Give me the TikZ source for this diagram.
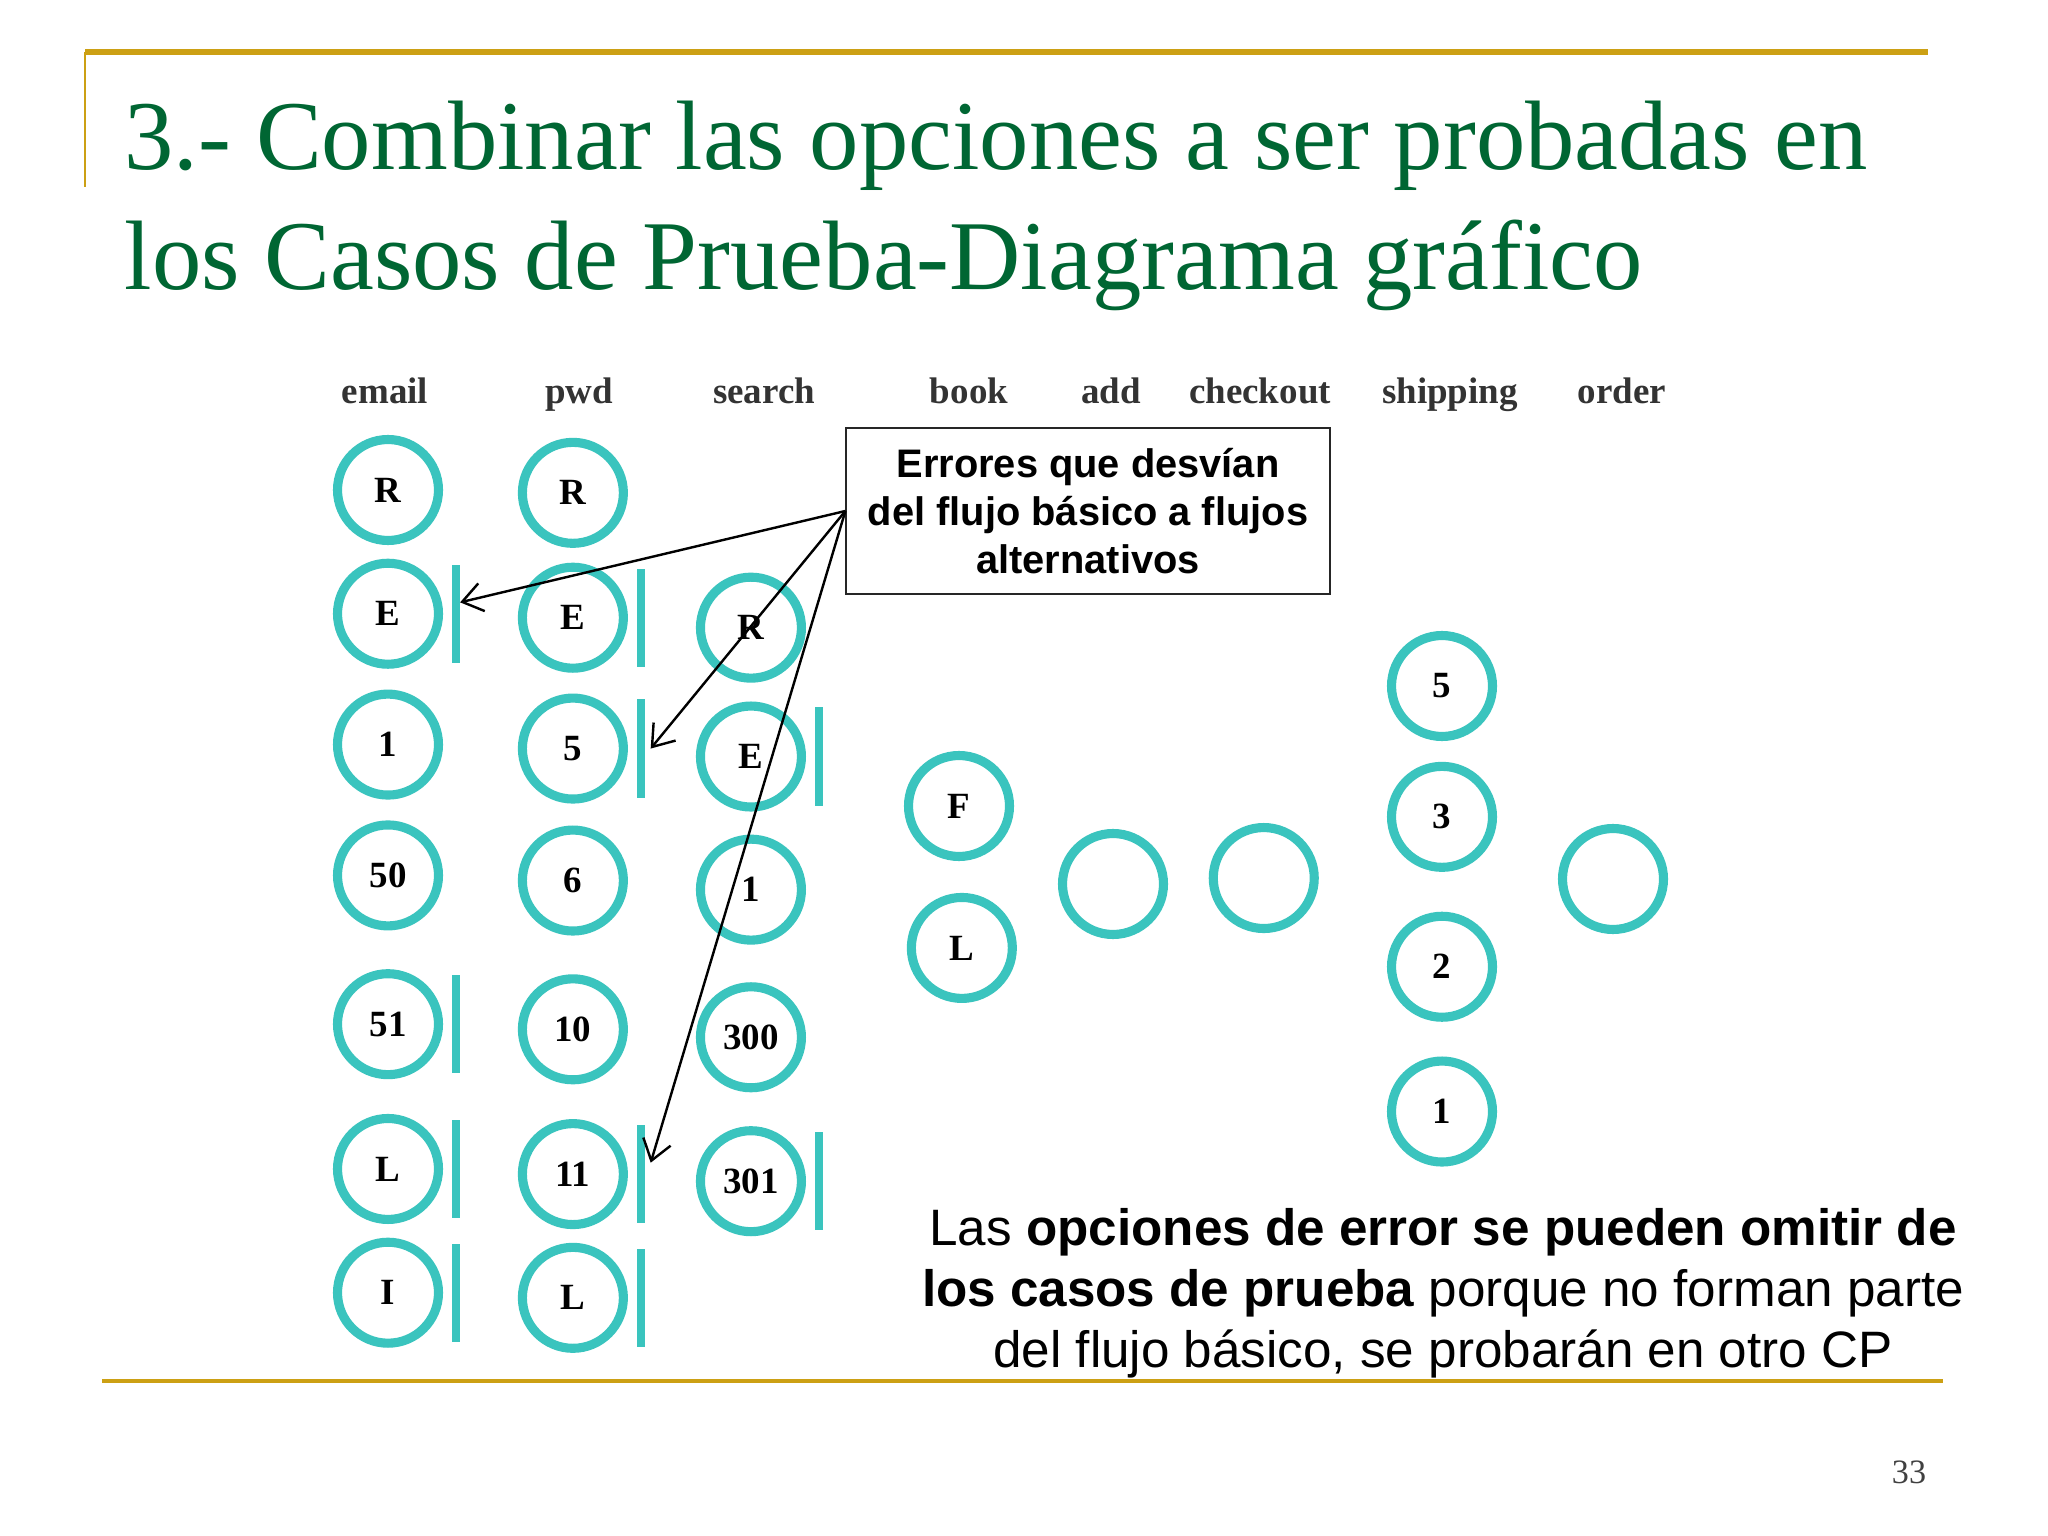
\documentclass[tikz,border=0pt]{standalone}
\usepackage{fontspec}
\setmainfont{Liberation Serif}
\setsansfont{Liberation Sans}
\usepackage{tikz}
\usetikzlibrary{positioning,arrows.meta}
\definecolor{slidegreen}{RGB}{0,102,51}
\definecolor{slidegold}{RGB}{204,160,20}
\definecolor{ringteal}{RGB}{58,196,190}

\begin{document}
\begin{tikzpicture}[
    x=0.35156pt, y=-0.35156pt,
    node distance=46pt,
    ring/.style={draw=ringteal,line width=3.2pt,circle,minimum size=35.5pt,inner sep=0pt,font=\fontsize{13}{15}\selectfont\bfseries},
    bar/.style={fill=ringteal,minimum width=2.8pt,minimum height=34.5pt,inner sep=0pt,outer sep=0pt},
    colhead/.style={anchor=base,font=\fontsize{13}{15}\selectfont\bfseries,text=black!80},
    titleline/.style={anchor=base west,inner sep=0pt,text=slidegreen,font=\fontsize{34.7}{42}\selectfont},
    note/.style={draw=black!85,line width=0.6pt,font=\sffamily\bfseries\fontsize{14}{16.8}\selectfont,align=center,minimum width=170pt,minimum height=58.4pt,inner sep=0pt},
    errarrow/.style={-{Straight Barb[length=7pt,width=10pt]},line width=0.85pt},
]
    \fill[white] (0,0) rectangle (2048,1536);
    \useasboundingbox (0,0) rectangle (2048,1536);

    %frame
    \draw[slidegold,line width=1.8pt] (85,52) -- (1928,52);
    \draw[slidegold,line width=1pt] (85,52) -- (85,187);
    \draw[slidegold,line width=1.3pt] (102,1381) -- (1943,1381);

    %title
    \node[titleline] (title1) at (124,170) {3.- Combinar las opciones a ser probadas en};
    \node[titleline] (title2) at (124,290) {los Casos de Prueba-Diagrama gráfico};

    %headers
    \node[colhead] (hemail) at (385,404) {email};
    \node[colhead] (hpwd) at (579,404) {pwd};
    \node[colhead] (hsearch) at (764,404) {search};
    \node[colhead] (hbook) at (969,404) {book};
    \node[colhead] (hadd) at (1111,404) {add};
    \node[colhead] (hcheckout) at (1260,404) {checkout};
    \node[colhead] (hshipping) at (1450,404) {shipping};
    \node[colhead] (horder) at (1622,404) {order};

    %email
    \node[ring] (e1) at (388,490) {R};
    \node[ring,below of=e1,yshift=2.5pt] (e2) {E};
    \node[ring,below of=e2] (e3) {1};
    \node[ring,below of=e3] (e4) {50};
    \node[ring,below of=e4,yshift=-6.3pt] (e5) {51};
    \node[ring,below of=e5,yshift=-4.9pt] (e6) {L};
    \node[ring,below of=e6,yshift=2.5pt] (e7) {I};

    %pwd
    \node[ring,right of=e1,xshift=19pt,yshift=-1pt] (p1) {R};
    \node[ring,right of=e2,xshift=19pt,yshift=-1.4pt] (p2) {E};
    \node[ring,right of=e3,xshift=19pt,yshift=-1.4pt] (p3) {5};
    \node[ring,right of=e4,xshift=19pt,yshift=-1.8pt] (p4) {6};
    \node[ring,right of=e5,xshift=19pt,yshift=-1.8pt] (p5) {10};
    \node[ring,right of=e6,xshift=19pt,yshift=-1.8pt] (p6) {11};
    \node[ring,right of=e7,xshift=19pt,yshift=-1.8pt] (p7) {L};

    %search
    \node[ring,right of=p2,xshift=16.6pt,yshift=-3.5pt] (s1) {R};
    \node[ring,right of=p3,xshift=16.6pt,yshift=-2.8pt] (s2) {E};
    \node[ring,right of=p4,xshift=16.6pt,yshift=-3.2pt] (s3) {1};
    \node[ring,right of=p5,xshift=16.6pt,yshift=-2.8pt] (s4) {300};
    \node[ring,right of=p6,xshift=16.6pt,yshift=-2.5pt] (s5) {301};

    %book, add, checkout
    \node[ring] (b1) at (959,806) {F};
    \node[ring,below of=b1,yshift=-3.9pt,xshift=1pt] (b2) {L};
    \node[ring] (a1) at (1113,884) {};
    \node[ring,right of=a1,xshift=7pt,yshift=2.1pt] (c1) {};

    %shipping, order
    \node[ring] (sh1) at (1442,686) {5};
    \node[ring,below of=sh1] (sh2) {3};
    \node[ring,below of=sh2,yshift=-6.7pt] (sh3) {2};
    \node[ring,below of=sh3,yshift=-4.9pt] (sh4) {1};
    \node[ring] (o1) at (1613,879) {};

    %error bars
    \node[bar,right=3.2pt of e2] (e2b) {};
    \node[bar,right=3.2pt of e5] (e5b) {};
    \node[bar,right=3.2pt of e6] (e6b) {};
    \node[bar,right=3.2pt of e7] (e7b) {};
    \node[bar,right=3.2pt of p2] (p2b) {};
    \node[bar,right=3.2pt of p3] (p3b) {};
    \node[bar,right=3.2pt of p6] (p6b) {};
    \node[bar,right=3.2pt of p7] (p7b) {};
    \node[bar,right=3.2pt of s2] (s2b) {};
    \node[bar,right=3.2pt of s5] (s5b) {};

    %note
    \node[note] (note) at (1088,511) {Errores que desvían\\del flujo básico a flujos\\alternativos};

    \draw[errarrow] (note.west) -- ([yshift=4pt]e2b.east);
    \draw[errarrow] (note.west) -- ([xshift=2pt]p3b.east);
    \draw[errarrow] (note.west) -- ([xshift=2pt,yshift=4pt]p6b.east);

    %remark
    \node[font=\sffamily\fontsize{18}{21.4}\selectfont,align=center] (remark) at (1443,1293)
        {Las \textbf{opciones de error se pueden omitir de}\\\textbf{los casos de prueba} porque no forman parte\\del flujo básico, se probarán en otro CP};

    \node[font=\fontsize{12}{14}\selectfont,text=black!75] (pagenum) at (1909,1472) {33};
\end{tikzpicture}
\end{document}
